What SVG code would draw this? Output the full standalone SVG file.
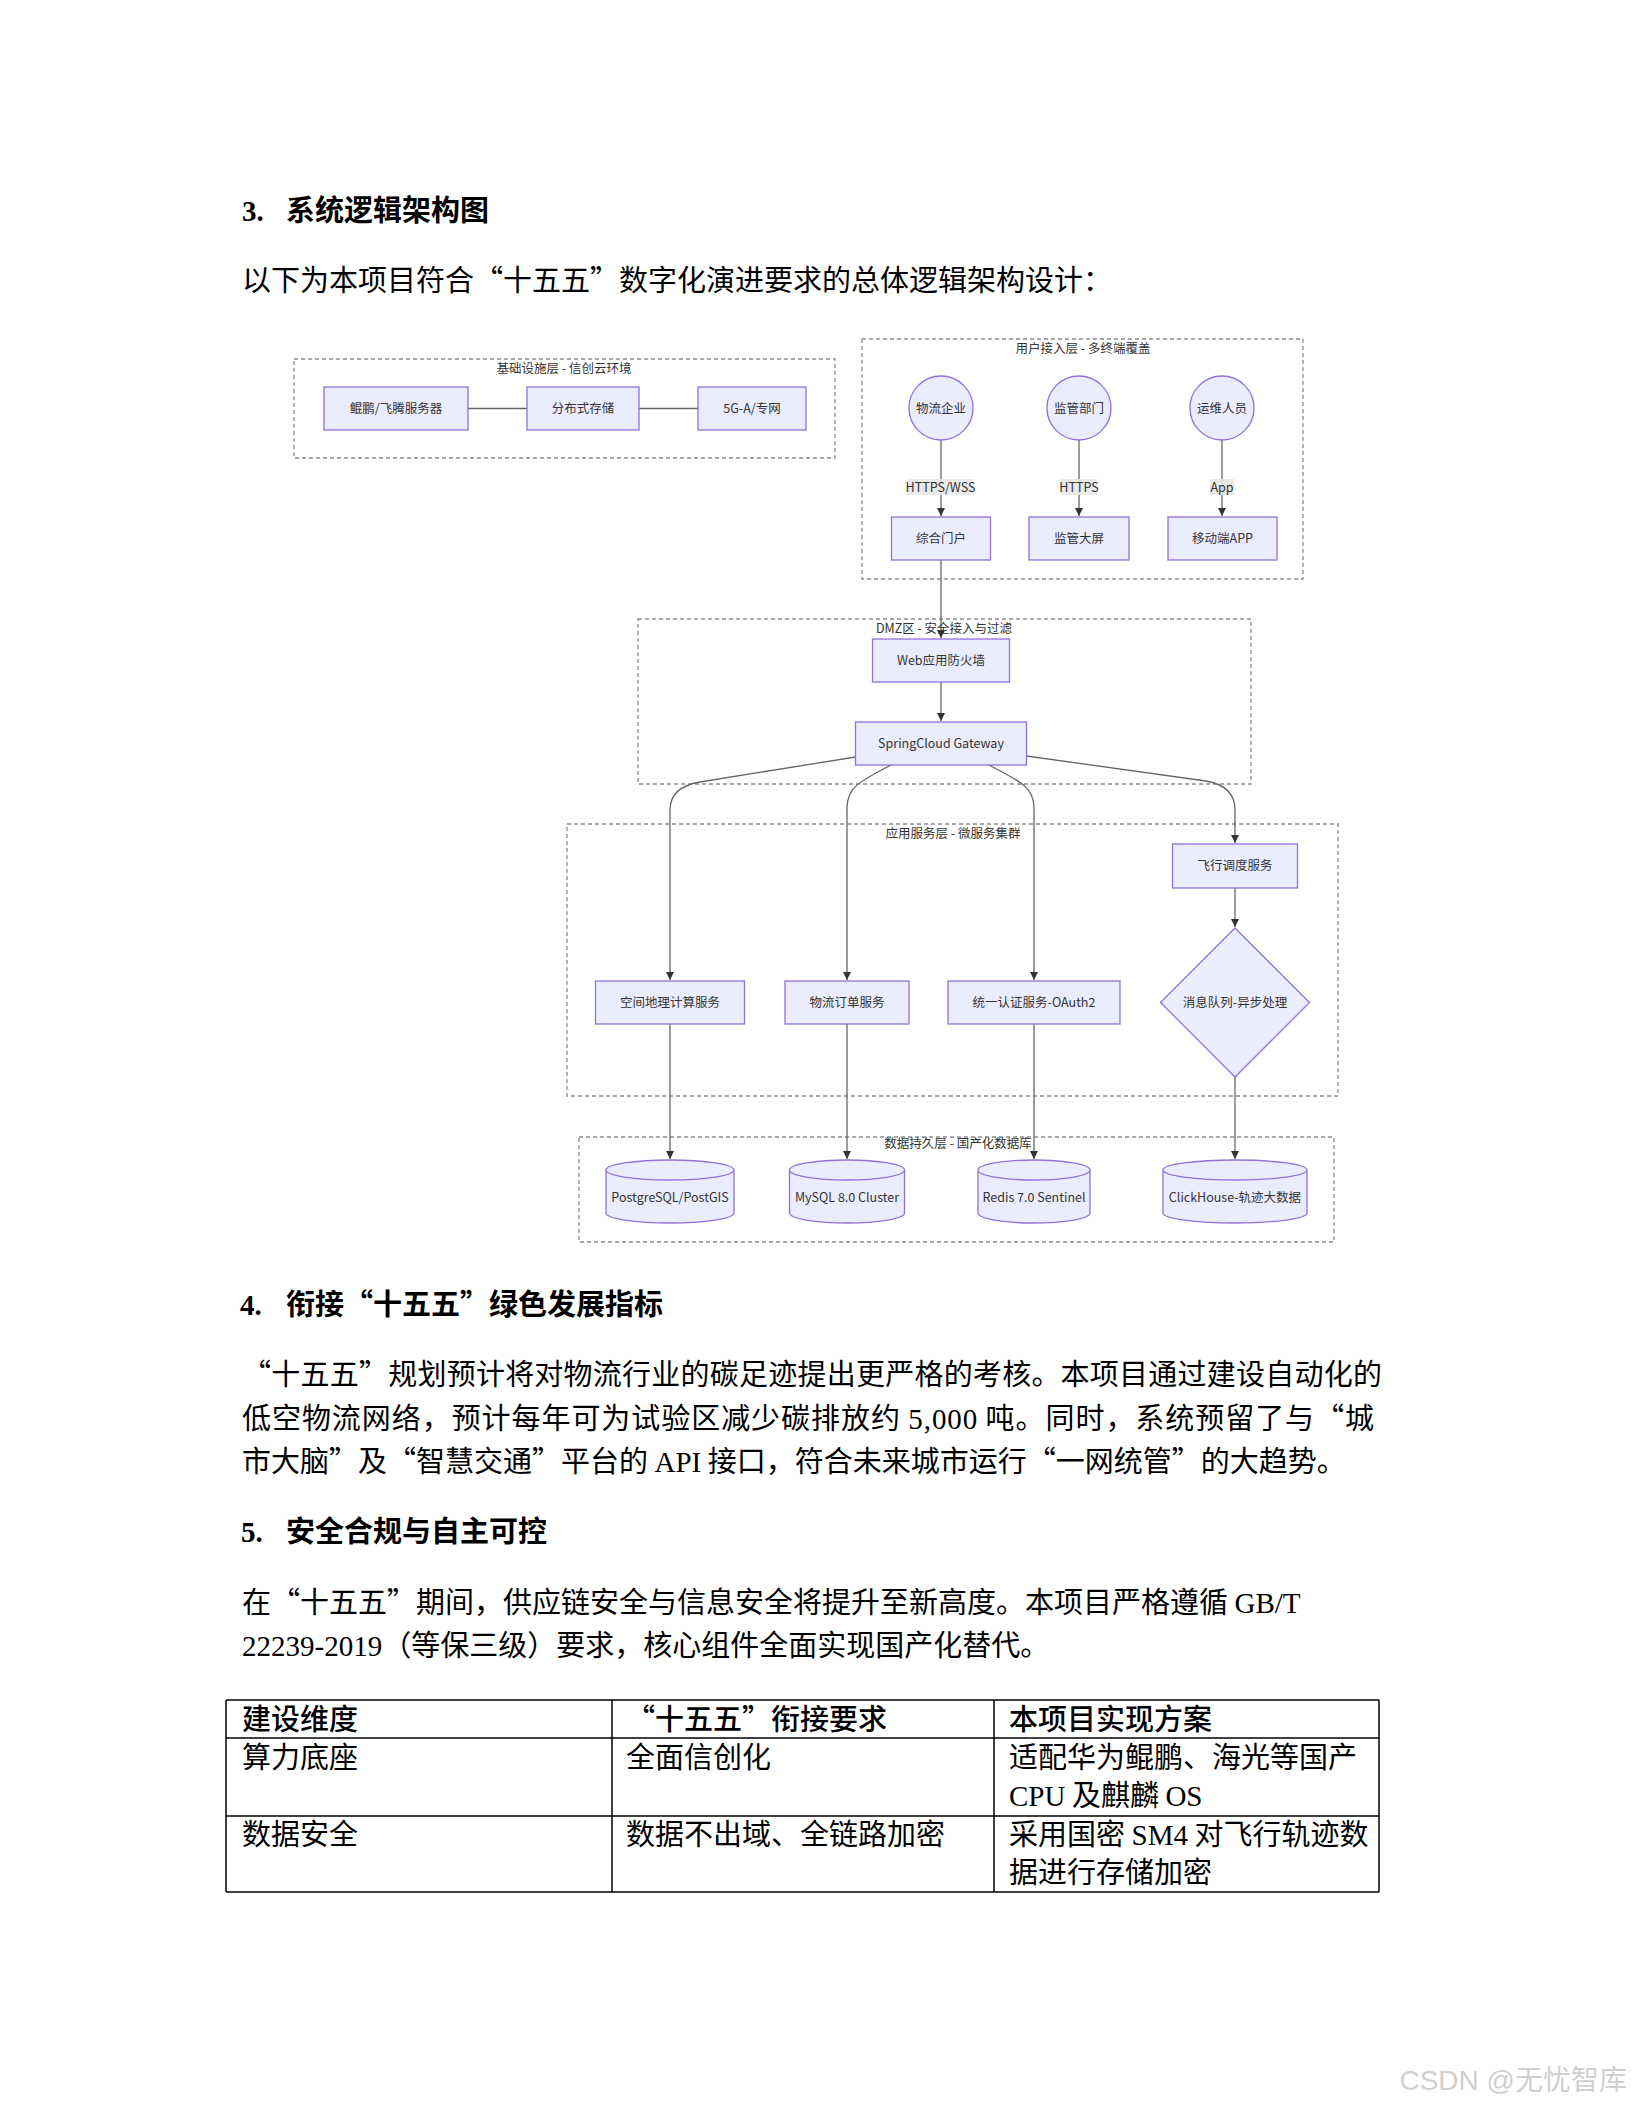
<svg xmlns="http://www.w3.org/2000/svg" width="1632" height="2112" viewBox="0 0 1632 2112">
<defs>
<style>
.body{font-family:"Noto Sans CJK SC","Liberation Serif",serif;font-size:29px;fill:#000}
.lat{font-family:"Liberation Serif","Noto Sans CJK SC",serif}
.h{font-weight:700}
.th{font-weight:500}
.cluster{fill:#fff;stroke:#8c8c8c;stroke-width:1.3;stroke-dasharray:4 3}
.ctitle{font-family:"Noto Sans CJK SC","Noto Sans",sans-serif;font-size:12.5px;fill:#333;text-anchor:middle}
.node{fill:#ECECFF;stroke:#9370DB;stroke-width:1.3}
.nt{font-family:"Noto Sans CJK SC","Noto Sans",sans-serif;font-size:12.5px;fill:#333;text-anchor:middle}
.edge{fill:none;stroke:#666;stroke-width:1.3}
.arr{marker-end:url(#ah)}
.lbg{fill:#e8e8e8;opacity:0.9}
.grid{stroke:#000;stroke-width:1.5}
</style>
<marker id="ah" viewBox="0 0 10 10" refX="10" refY="5" markerUnits="userSpaceOnUse" markerWidth="8" markerHeight="8" orient="auto">
<path d="M0,0 L10,5 L0,10 z" fill="#333"/>
</marker>
</defs>
<rect width="1632" height="2112" fill="#fff"/>

<!-- document text -->
<text class="body h" y="221"><tspan class="lat" x="242">3.</tspan><tspan x="286">系统逻辑架构图</tspan></text>
<text class="body" x="242" y="291">以下为本项目符合“十五五”数字化演进要求的总体逻辑架构设计：</text>

<!-- clusters -->
<g id="cluster-infra">
<rect class="cluster" x="294" y="359" width="541" height="99"/>
<text class="ctitle" x="564" y="373">基础设施层 - 信创云环境</text>
</g>
<g id="cluster-user">
<rect class="cluster" x="862" y="339" width="441" height="240"/>
<text class="ctitle" x="1083" y="353">用户接入层 - 多终端覆盖</text>
</g>
<g id="cluster-dmz">
<rect class="cluster" x="638" y="619" width="613" height="165"/>
</g>
<g id="cluster-app">
<rect class="cluster" x="567" y="824" width="771" height="272"/>
<text class="ctitle" x="953" y="838">应用服务层 - 微服务集群</text>
</g>
<g id="cluster-db">
<rect class="cluster" x="579" y="1137" width="755" height="105"/>
</g>

<!-- connectors -->
<g id="connectors">
<path class="edge" d="M468,408.5 L527,408.5"/>
<path class="edge" d="M639,408.5 L698,408.5"/>
<path class="edge arr" d="M941,440 L941,516"/>
<path class="edge arr" d="M1079,440 L1079,516"/>
<path class="edge arr" d="M1222,440 L1222,516"/>
<path class="edge arr" d="M941,560 L941,638"/>
<path class="edge arr" d="M941,682 L941,721"/>
<path class="edge arr" d="M855.5,757 L700,782 Q670,787 670,810 L670,980"/>
<path class="edge arr" d="M891,765 C858,782 847,788 847,808 L847,980"/>
<path class="edge arr" d="M989,765 C1022,782 1034,788 1034,808 L1034,980"/>
<path class="edge arr" d="M1026.5,756 L1206,781 Q1235,786 1235,810 L1235,843"/>
<path class="edge arr" d="M1235,888 L1235,927"/>
<path class="edge arr" d="M670,1024 L670,1159"/>
<path class="edge arr" d="M847,1024 L847,1159"/>
<path class="edge arr" d="M1034,1024 L1034,1159"/>
<path class="edge arr" d="M1235,1077 L1235,1159"/>
<rect class="lbg" x="907" y="479" width="67" height="16"/>
<text class="nt" x="940.5" y="491.5">HTTPS/WSS</text>
<rect class="lbg" x="1061" y="479" width="36" height="16"/>
<text class="nt" x="1079" y="491.5">HTTPS</text>
<rect class="lbg" x="1210" y="479" width="24" height="16"/>
<text class="nt" x="1222" y="491.5">App</text>
</g>

<!-- cluster titles drawn over lines -->
<text class="ctitle" x="944" y="633">DMZ区 - 安全接入与过滤</text>
<text class="ctitle" x="958" y="1148">数据持久层 - 国产化数据库</text>

<!-- nodes -->
<g id="n-kunpeng"><rect class="node" x="324" y="387" width="144" height="43"/><text class="nt" x="396" y="413">鲲鹏/飞腾服务器</text></g>
<g id="n-storage"><rect class="node" x="527" y="387" width="112" height="43"/><text class="nt" x="583" y="413">分布式存储</text></g>
<g id="n-5g"><rect class="node" x="698" y="387" width="108" height="43"/><text class="nt" x="752" y="413">5G-A/专网</text></g>

<g id="n-enterprise"><circle class="node" cx="941" cy="408" r="32"/><text class="nt" x="941" y="412.5">物流企业</text></g>
<g id="n-regulator"><circle class="node" cx="1079" cy="408" r="32"/><text class="nt" x="1079" y="412.5">监管部门</text></g>
<g id="n-ops"><circle class="node" cx="1222" cy="408" r="32"/><text class="nt" x="1222" y="412.5">运维人员</text></g>

<g id="n-portal"><rect class="node" x="891.5" y="517" width="99" height="43"/><text class="nt" x="941" y="543">综合门户</text></g>
<g id="n-screen"><rect class="node" x="1029" y="517" width="100" height="43"/><text class="nt" x="1079" y="543">监管大屏</text></g>
<g id="n-app"><rect class="node" x="1168" y="517" width="109" height="43"/><text class="nt" x="1222.5" y="543">移动端APP</text></g>

<g id="n-waf"><rect class="node" x="872.5" y="639" width="137" height="43"/><text class="nt" x="941" y="665">Web应用防火墙</text></g>
<g id="n-gateway"><rect class="node" x="855.5" y="722" width="171" height="43"/><text class="nt" x="941" y="748">SpringCloud Gateway</text></g>

<g id="n-geo"><rect class="node" x="595.5" y="981" width="149" height="43"/><text class="nt" x="670" y="1007">空间地理计算服务</text></g>
<g id="n-order"><rect class="node" x="785" y="981" width="124" height="43"/><text class="nt" x="847" y="1007">物流订单服务</text></g>
<g id="n-auth"><rect class="node" x="948" y="981" width="172" height="43"/><text class="nt" x="1034" y="1007">统一认证服务-OAuth2</text></g>
<g id="n-flight"><rect class="node" x="1172.5" y="844" width="125" height="44"/><text class="nt" x="1235" y="870">飞行调度服务</text></g>
<g id="n-mq"><polygon class="node" points="1235,928 1309.5,1002.5 1235,1077 1160.5,1002.5"/><text class="nt" x="1235" y="1007">消息队列-异步处理</text></g>

<g id="n-pg"><path class="node" d="M606,1170 a64,10 0 0 0 128,0 a64,10 0 0 0 -128,0 l0,43 a64,10 0 0 0 128,0 l0,-43"/><text class="nt" x="670" y="1202">PostgreSQL/PostGIS</text></g>
<g id="n-mysql"><path class="node" d="M789.5,1170 a57.5,10 0 0 0 115,0 a57.5,10 0 0 0 -115,0 l0,43 a57.5,10 0 0 0 115,0 l0,-43"/><text class="nt" x="847" y="1202">MySQL 8.0 Cluster</text></g>
<g id="n-redis"><path class="node" d="M978,1170 a56,10 0 0 0 112,0 a56,10 0 0 0 -112,0 l0,43 a56,10 0 0 0 112,0 l0,-43"/><text class="nt" x="1034" y="1202">Redis 7.0 Sentinel</text></g>
<g id="n-ch"><path class="node" d="M1163,1170 a72,10 0 0 0 144,0 a72,10 0 0 0 -144,0 l0,43 a72,10 0 0 0 144,0 l0,-43"/><text class="nt" x="1235" y="1202">ClickHouse-轨迹大数据</text></g>

<!-- section 4 -->
<text class="body h" y="1315"><tspan class="lat" x="240">4.</tspan><tspan x="286">衔接“十五五”绿色发展指标</tspan></text>
<text class="body" x="242" y="1385" textLength="1140" lengthAdjust="spacing">“十五五”规划预计将对物流行业的碳足迹提出更严格的考核。本项目通过建设自动化的</text>
<text class="body" x="242" y="1429" textLength="1132" lengthAdjust="spacing">低空物流网络，预计每年可为试验区减少碳排放约 <tspan class="lat">5,000</tspan> 吨。同时，系统预留了与“城</text>
<text class="body" x="242" y="1472">市大脑”及“智慧交通”平台的 <tspan class="lat">API</tspan> 接口，符合未来城市运行“一网统管”的大趋势。</text>

<!-- section 5 -->
<text class="body h" y="1542"><tspan class="lat" x="241">5.</tspan><tspan x="286">安全合规与自主可控</tspan></text>
<text class="body" x="242" y="1613">在“十五五”期间，供应链安全与信息安全将提升至新高度。本项目严格遵循 <tspan class="lat">GB/T</tspan></text>
<text class="body" x="242" y="1656"><tspan class="lat">22239-2019</tspan>（等保三级）要求，核心组件全面实现国产化替代。</text>

<!-- table -->
<g id="table">
<line class="grid" x1="226" y1="1700" x2="1379" y2="1700"/>
<line class="grid" x1="226" y1="1738" x2="1379" y2="1738"/>
<line class="grid" x1="226" y1="1816" x2="1379" y2="1816"/>
<line class="grid" x1="226" y1="1892" x2="1379" y2="1892"/>
<line class="grid" x1="226" y1="1700" x2="226" y2="1892"/>
<line class="grid" x1="612" y1="1700" x2="612" y2="1892"/>
<line class="grid" x1="994" y1="1700" x2="994" y2="1892"/>
<line class="grid" x1="1379" y1="1700" x2="1379" y2="1892"/>
<text class="body th" x="242" y="1730">建设维度</text>
<text class="body th" x="626" y="1730">“十五五”衔接要求</text>
<text class="body th" x="1009" y="1730">本项目实现方案</text>
<text class="body" x="242" y="1768">算力底座</text>
<text class="body" x="626" y="1768">全面信创化</text>
<text class="body" x="1009" y="1768">适配华为鲲鹏、海光等国产</text>
<text class="body" x="1009" y="1806"><tspan class="lat">CPU</tspan> 及麒麟 <tspan class="lat">OS</tspan></text>
<text class="body" x="242" y="1845">数据安全</text>
<text class="body" x="626" y="1845">数据不出域、全链路加密</text>
<text class="body" x="1009" y="1845">采用国密 <tspan class="lat">SM4</tspan> 对飞行轨迹数</text>
<text class="body" x="1009" y="1883">据进行存储加密</text>
</g>

<text x="1627" y="2090" text-anchor="end" font-family="Liberation Sans, Noto Sans CJK SC, sans-serif" font-size="28" fill="#cfcfcf">CSDN @无忧智库</text>
</svg>
